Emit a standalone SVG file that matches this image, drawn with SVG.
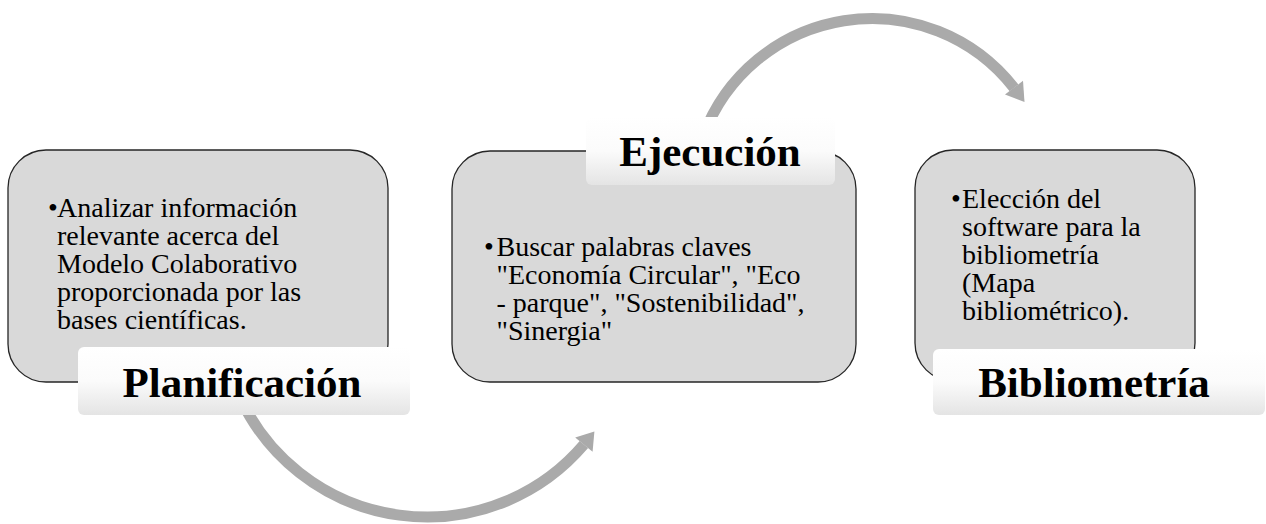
<svg xmlns="http://www.w3.org/2000/svg" width="1266" height="524" viewBox="0 0 1266 524">
<defs>
<linearGradient id="lblGrad" x1="0" y1="0" x2="0" y2="1">
<stop offset="0" stop-color="#ffffff"/>
<stop offset="0.5" stop-color="#fbfbfb"/>
<stop offset="1" stop-color="#e4e4e4"/>
</linearGradient>
<style>
.box{fill:#d9d9d9;stroke:#262626;stroke-width:1.3}
.lbl{fill:url(#lblGrad)}
.body{font-family:"Liberation Serif","Times New Roman",serif;font-size:28px;fill:#000}
.title{font-family:"Liberation Serif","Times New Roman",serif;font-size:43px;font-weight:bold;fill:#000;text-anchor:middle}
.arc{fill:none;stroke:#aaaaaa;stroke-width:11}
.head{fill:#aaaaaa}
</style>
</defs>
<rect width="1266" height="524" fill="#ffffff"/>
<g id="connectors">
<path class="arc" d="M240.3 398.1 A206 206 0 0 0 583.9 444.5"/>
<polygon class="head" points="594.4,431.5 575.2,437.4 592.6,451.8"/>
<path class="arc" d="M702.9 136.9 A180 180 0 0 1 1014 87.9"/>
<polygon class="head" points="1024.5,102 1005,94.5 1023,80.8"/>
</g>
<g id="node-planificacion">
<rect class="box" x="8" y="150" width="380" height="232" rx="38" ry="38"/>
<text class="body">
<tspan x="48" y="217">•</tspan><tspan x="57" y="217">Analizar información</tspan>
<tspan x="57" y="245">relevante acerca del</tspan>
<tspan x="57" y="273">Modelo Colaborativo</tspan>
<tspan x="57" y="301">proporcionada por las</tspan>
<tspan x="57" y="329">bases científicas.</tspan>
</text>
<rect class="lbl" x="78" y="347" width="332" height="68" rx="6" ry="6"/>
<text class="title" x="242" y="397">Planificación</text>
</g>
<g id="node-ejecucion">
<rect class="box" x="452" y="151" width="404" height="231" rx="38" ry="38"/>
<text class="body">
<tspan x="484" y="256">•</tspan><tspan x="496.5" y="256">Buscar palabras claves</tspan>
<tspan x="496.5" y="284">"Economía Circular", "Eco</tspan>
<tspan x="496.5" y="312">- parque", "Sostenibilidad",</tspan>
<tspan x="496.5" y="340">"Sinergia"</tspan>
</text>
<rect class="lbl" x="586" y="117" width="249" height="68" rx="6" ry="6"/>
<text class="title" x="710" y="166">Ejecución</text>
</g>
<g id="node-bibliometria">
<rect class="box" x="915" y="150" width="280" height="231" rx="38" ry="38"/>
<text class="body">
<tspan x="951" y="208">•</tspan><tspan x="962" y="208">Elección del</tspan>
<tspan x="962" y="236">software para la</tspan>
<tspan x="962" y="264">bibliometría</tspan>
<tspan x="962" y="292">(Mapa</tspan>
<tspan x="962" y="320">bibliométrico).</tspan>
</text>
<rect class="lbl" x="933" y="349" width="332" height="66" rx="6" ry="6"/>
<text class="title" x="1094" y="397">Bibliometría</text>
</g>
</svg>
